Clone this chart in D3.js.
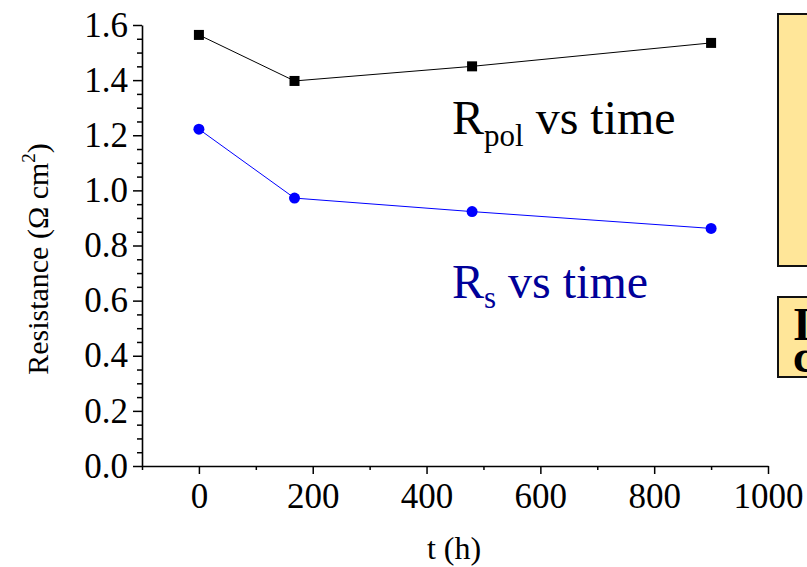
<!DOCTYPE html>
<html>
<head>
<meta charset="utf-8">
<script src="https://cdn.jsdelivr.net/npm/d3@7"></script>
<style>
  html, body { margin: 0; padding: 0; background: #fff; }
  svg { display: block; font-family: "Liberation Serif", "Times New Roman", serif; }
</style>
</head>
<body>
<svg id="chart" width="807" height="567"></svg>
<script>
// ---- data ----
const times = [0, 168, 480, 900];
const rpolValues = [1.564, 1.397, 1.450, 1.535];
const rsValues = [1.222, 0.972, 0.923, 0.862];
const xTickValues = [0, 200, 400, 600, 800, 1000];
const yTickValues = [0.0, 0.2, 0.4, 0.6, 0.8, 1.0, 1.2, 1.4, 1.6];

const svg = d3.select("#chart");
const x = d3.scaleLinear().domain([-100, 1000]).range([142, 768]);
const y = d3.scaleLinear().domain([0, 1.6]).range([466, 25]);

// yellow boxes (partially off-canvas)
svg.append("rect").attr("x", 778).attr("y", 14).attr("width", 60).attr("height", 252)
  .attr("fill", "#FFE699").attr("stroke", "#111").attr("stroke-width", 2);
svg.append("rect").attr("x", 778).attr("y", 297).attr("width", 60).attr("height", 80)
  .attr("fill", "#FFE699").attr("stroke", "#111").attr("stroke-width", 2);
svg.append("text").attr("x", 793).attr("y", 340).attr("font-size", 46).attr("font-weight", "bold").text("I");
svg.append("text").attr("x", 793).attr("y", 372).attr("font-size", 46).attr("font-weight", "bold").text("c");

// x axis
const xMinor = d3.range(-100, 1001, 100).filter(v => !xTickValues.includes(v));
const gx = svg.append("g").attr("transform", `translate(0,${y(0)})`);
gx.call(d3.axisBottom(x).tickValues(xMinor).tickSize(4).tickFormat(""));
gx.call(g => g.select(".domain").remove());
const gx2 = svg.append("g").attr("transform", `translate(0,${y(0)})`)
  .call(d3.axisBottom(x).tickValues(xTickValues).tickSize(8).tickSizeOuter(0).tickPadding(9).tickFormat(d3.format("d")));
gx2.selectAll("text").attr("font-size", 35).attr("fill", "#000").attr("font-family", "Liberation Serif").attr("dy", "0.72em");
gx2.select(".domain").attr("stroke", "#000").attr("stroke-width", 1.6);

// y axis
const yMinor = d3.range(0, 1.6001, 0.05).map(v => +v.toFixed(2)).filter(v => !yTickValues.some(t => Math.abs(t - v) < 1e-6));
const gy = svg.append("g").attr("transform", `translate(${x(-100)},0)`);
gy.call(d3.axisLeft(y).tickValues(yMinor).tickSize(5).tickFormat(""));
gy.call(g => g.select(".domain").remove());
const gy2 = svg.append("g").attr("transform", `translate(${x(-100)},0)`)
  .call(d3.axisLeft(y).tickValues(yTickValues).tickSize(9).tickSizeOuter(0).tickPadding(5).tickFormat(d3.format(".1f")));
gy2.selectAll("text").attr("font-size", 35).attr("fill", "#000").attr("font-family", "Liberation Serif").attr("dy", "0.32em");
gy2.select(".domain").attr("stroke", "#000").attr("stroke-width", 1.6);
[gx, gx2, gy, gy2].forEach(g => g.selectAll("line").attr("stroke", "#000").attr("stroke-width", 1.5));

// axis titles
svg.append("text").attr("x", 454).attr("y", 559).attr("text-anchor", "middle")
  .attr("font-size", 32).text("t (h)");
const yl = svg.append("text").attr("transform", "translate(48,259) rotate(-90)")
  .attr("text-anchor", "middle").attr("font-size", 30);
yl.append("tspan").text("Resistance (Ω cm");
yl.append("tspan").attr("font-size", 19).attr("dy", -13).text("2");
yl.append("tspan").attr("dy", 13).text(")");

// series
const line = d3.line().x((d, i) => x(times[i])).y(d => y(d));
svg.append("path").datum(rpolValues).attr("d", line).attr("fill", "none").attr("stroke", "#000").attr("stroke-width", 1);
svg.append("path").datum(rsValues).attr("d", line).attr("fill", "none").attr("stroke", "#0000FF").attr("stroke-width", 1);
svg.selectAll("rect.pt").data(rpolValues).join("rect").attr("class", "pt")
  .attr("x", (d, i) => x(times[i]) - 5).attr("y", d => y(d) - 5).attr("width", 10).attr("height", 10).attr("fill", "#000");
svg.selectAll("circle.pt").data(rsValues).join("circle").attr("class", "pt")
  .attr("cx", (d, i) => x(times[i])).attr("cy", d => y(d)).attr("r", 5.5).attr("fill", "#0000FF");

// series labels
const t1 = svg.append("text").attr("x", 452).attr("y", 134).attr("font-size", 48).attr("fill", "#000");
t1.append("tspan").text("R");
t1.append("tspan").attr("font-size", 31).attr("dy", 12).text("pol");
t1.append("tspan").attr("dy", -12).text(" vs time");
const t2 = svg.append("text").attr("x", 452).attr("y", 298).attr("font-size", 48).attr("fill", "#000099");
t2.append("tspan").text("R");
t2.append("tspan").attr("font-size", 31).attr("dy", 10).text("s");
t2.append("tspan").attr("dy", -10).text(" vs time");
</script>
</body>
</html>
